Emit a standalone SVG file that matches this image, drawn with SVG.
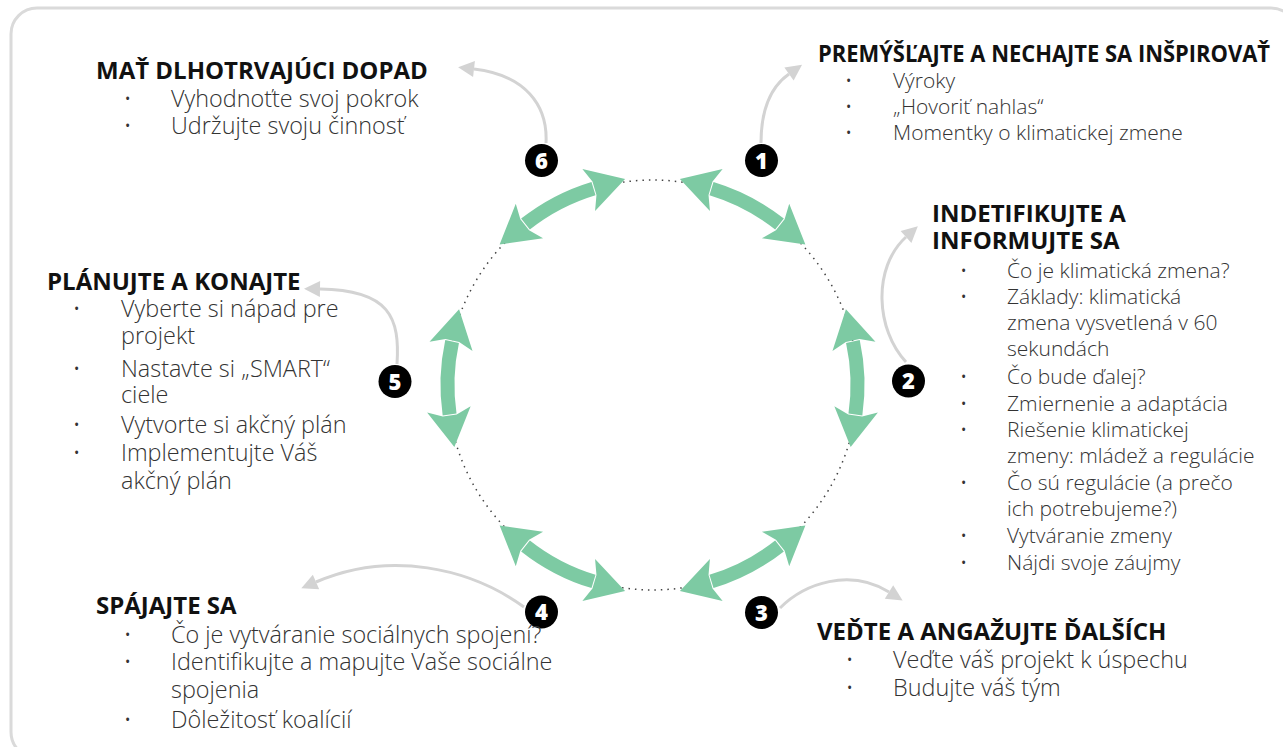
<svg xmlns="http://www.w3.org/2000/svg" width="1283" height="747" viewBox="0 0 1283 747">
<style>
.h{font-family:"Open Sans","Liberation Sans",sans-serif;font-weight:700;font-size:24px;fill:#111}
.t{font-family:"Open Sans","Liberation Sans",sans-serif;font-weight:300;font-size:23.4px;fill:#333}
.s{font-size:21px}
.b{font-family:"Open Sans","Liberation Sans",sans-serif;font-size:14px;fill:#333}
.num{font-family:"Open Sans","Liberation Sans",sans-serif;font-weight:800;font-size:22px;fill:#fff;text-anchor:middle}
.green{fill:none;stroke:#7dcaa3;stroke-width:14;marker-start:url(#ga);marker-end:url(#ga)}
.gray{fill:none;stroke:#d3d3d3;stroke-width:3;marker-end:url(#gh)}
</style>
<defs>
<marker id="ga" markerUnits="userSpaceOnUse" markerWidth="60" markerHeight="60" viewBox="-10 -30 60 60" refX="0" refY="0" orient="auto-start-reverse" overflow="visible">
<path d="M33,0 L-5,-22 L1,-7 L1,7 L-5,22 Z" fill="#7dcaa3"/>
</marker>
<marker id="gh" markerUnits="userSpaceOnUse" markerWidth="30" markerHeight="30" viewBox="-5 -15 30 30" refX="0" refY="0" orient="auto" overflow="visible">
<path d="M16,0 L0,-8 L0,8 Z" fill="#d3d3d3"/>
</marker>
</defs>
<rect x="11" y="8" width="1286" height="750" rx="26" fill="none" stroke="#dadada" stroke-width="3"/>
<g id="connectors">
<circle cx="652.5" cy="385" r="205" fill="none" stroke="#444" stroke-width="1.5" stroke-dasharray="1.5 5"/>
<path class="green" d="M711.5,188.6 A205,205 0 0 1 779.5,224.1"/>
<path class="green" d="M852.9,341.5 A205,205 0 0 1 855.4,414.4"/>
<path class="green" d="M779.5,545.9 A205,205 0 0 1 711.5,581.4"/>
<path class="green" d="M593.5,581.4 A205,205 0 0 1 525.5,545.9"/>
<path class="green" d="M449.6,414.4 A205,205 0 0 1 452.1,341.5"/>
<path class="green" d="M525.5,224.1 A205,205 0 0 1 593.5,188.6"/>
<path class="gray" d="M761,143 C761,108 772,86 789,74"/>
<path class="gray" d="M906,362 C876,330 872,268 906,237"/>
<path class="gray" d="M780,608 C805,583 850,568 889,592"/>
<path class="gray" d="M524,607 C470,568 390,550 316,582"/>
<path class="gray" d="M397,364 C400,318 390,290 320,289"/>
<path class="gray" d="M546,143 C548,105 525,75 474,69"/>
</g>
<g id="step1">
<circle cx="761.5" cy="160.5" r="16.5" fill="#000"/>
<text class="num" x="761.5" y="168.5">1</text>
<text class="h" x="818" y="62" textLength="452" lengthAdjust="spacingAndGlyphs">PREMÝŠĽAJTE A NECHAJTE SA INŠPIROVAŤ</text>
<text class="b" x="846" y="86">•</text><text class="t s" x="893" y="88">Výroky</text>
<text class="b" x="846" y="112">•</text><text class="t s" x="893" y="114">„Hovoriť nahlas“</text>
<text class="b" x="846" y="138">•</text><text class="t s" x="893" y="140">Momentky o klimatickej zmene</text>
</g>
<g id="step2">
<circle cx="908.5" cy="381" r="16.5" fill="#000"/>
<text class="num" x="908.5" y="389">2</text>
<text class="h" x="932" y="222">INDETIFIKUJTE A</text>
<text class="h" x="932" y="249">INFORMUJTE SA</text>
<text class="b" x="961" y="276">•</text><text class="t s" x="1007" y="278">Čo je klimatická zmena?</text>
<text class="b" x="961" y="302">•</text><text class="t s" x="1007" y="304">Základy: klimatická</text>
<text class="t s" x="1007" y="330">zmena vysvetlená v 60</text>
<text class="t s" x="1007" y="356">sekundách</text>
<text class="b" x="961" y="382">•</text><text class="t s" x="1007" y="384">Čo bude ďalej?</text>
<text class="b" x="961" y="409">•</text><text class="t s" x="1007" y="411">Zmiernenie a adaptácia</text>
<text class="b" x="961" y="435">•</text><text class="t s" x="1007" y="437">Riešenie klimatickej</text>
<text class="t s" x="1007" y="463">zmeny: mládež a regulácie</text>
<text class="b" x="961" y="488">•</text><text class="t s" x="1007" y="490">Čo sú regulácie (a prečo</text>
<text class="t s" x="1007" y="516">ich potrebujeme?)</text>
<text class="b" x="961" y="541">•</text><text class="t s" x="1007" y="543">Vytváranie zmeny</text>
<text class="b" x="961" y="568">•</text><text class="t s" x="1007" y="570">Nájdi svoje záujmy</text>
</g>
<g id="step3">
<circle cx="761.5" cy="612.5" r="16.5" fill="#000"/>
<text class="num" x="761.5" y="620.5">3</text>
<text class="h" x="817" y="640">VEĎTE A ANGAŽUJTE ĎALŠÍCH</text>
<text class="b" x="847" y="665">•</text><text class="t" x="893" y="668">Veďte váš projekt k úspechu</text>
<text class="b" x="847" y="693">•</text><text class="t" x="893" y="696">Budujte váš tým</text>
</g>
<g id="step4">
<circle cx="541.5" cy="612" r="16.5" fill="#000"/>
<text class="num" x="541.5" y="620">4</text>
<text class="h" x="96" y="614">SPÁJAJTE SA</text>
<text class="b" x="125" y="640">•</text><text class="t" x="171" y="643">Čo je vytváranie sociálnych spojení?</text>
<text class="b" x="125" y="667">•</text><text class="t" x="171" y="670">Identifikujte a mapujte Vaše sociálne</text>
<text class="t" x="171" y="698">spojenia</text>
<text class="b" x="125" y="725">•</text><text class="t" x="171" y="728">Dôležitosť koalícií</text>
</g>
<g id="step5">
<circle cx="395" cy="381.5" r="16.5" fill="#000"/>
<text class="num" x="395" y="389.5">5</text>
<text class="h" x="47" y="290">PLÁNUJTE A KONAJTE</text>
<text class="b" x="74" y="314">•</text><text class="t" x="121" y="317">Vyberte si nápad pre</text>
<text class="t" x="121" y="344">projekt</text>
<text class="b" x="74" y="374">•</text><text class="t" x="121" y="377">Nastavte si „SMART“</text>
<text class="t" x="121" y="403">ciele</text>
<text class="b" x="74" y="430">•</text><text class="t" x="121" y="433">Vytvorte si akčný plán</text>
<text class="b" x="74" y="458">•</text><text class="t" x="121" y="461">Implementujte Váš</text>
<text class="t" x="121" y="489">akčný plán</text>
</g>
<g id="step6">
<circle cx="541.5" cy="160.5" r="16.5" fill="#000"/>
<text class="num" x="541.5" y="168.5">6</text>
<text class="h" x="96" y="79">MAŤ DLHOTRVAJÚCI DOPAD</text>
<text class="b" x="125" y="104">•</text><text class="t" x="171" y="107">Vyhodnoťte svoj pokrok</text>
<text class="b" x="125" y="131">•</text><text class="t" x="171" y="134">Udržujte svoju činnosť</text>
</g>
</svg>
